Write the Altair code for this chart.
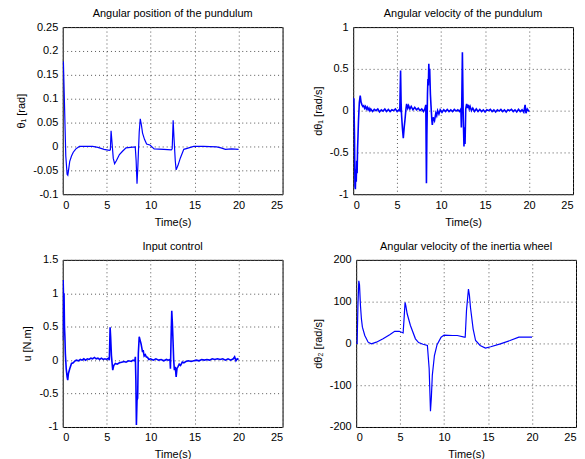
import altair as alt
import pandas as pd

# --- Angular position of the pendulum (theta1) ---
t1 = [0.0, 0.08, 0.2, 0.35, 0.5, 0.58, 0.7, 0.8, 1.0, 1.2, 1.5, 1.9, 2.5, 3.4, 4.0, 4.7, 5.3, 5.42, 5.5, 5.6,
      5.75, 5.9, 6.1, 6.45, 6.8, 7.2, 7.7, 8.25, 8.35, 8.45, 8.55, 8.7, 8.82, 8.95, 9.08, 9.3, 9.54, 9.92, 10.4, 11.5,
      12.35, 12.45, 12.56, 12.65, 12.8, 12.9, 13.1, 13.38, 13.77, 14.15, 14.9, 16.0, 17.5, 18.0, 18.5, 19.2, 20.0]
y1 = [0.178, 0.176, 0.09, -0.02, -0.058, -0.06, -0.045, -0.031, -0.02, -0.012, -0.005, 0.0, 0.0, 0.0, -0.002, -0.006,
      -0.008, -0.007, 0.033, 0.01, -0.025, -0.036, -0.03, -0.017, -0.01, -0.003, -0.002, -0.001, -0.03, -0.078, -0.04,
      0.03, 0.058, 0.045, 0.028, 0.015, 0.005, 0.003, -0.005, -0.006, -0.007, -0.005, 0.055, 0.02, -0.03, -0.049, -0.04,
      -0.024, -0.006, -0.004, 0.0, 0.0, -0.001, -0.003, -0.006, -0.005, -0.006]

# --- Angular velocity of the pendulum (dtheta1) ---
t2 = [0.0, 0.08, 0.15, 0.2, 0.25, 0.3, 0.35, 0.4, 0.45, 0.5, 0.55, 0.6, 0.7, 0.8, 0.9, 1.0, 1.1, 1.2, 1.3, 1.4,
      1.5, 1.6, 1.7, 1.8, 1.9, 2.0, 2.2, 2.4, 2.6, 2.8, 3.0, 3.2, 3.4, 3.6, 3.8, 4.0, 4.2, 4.4, 4.6, 4.8, 5.0, 5.2,
      5.3, 5.39, 5.45, 5.5, 5.6, 5.7, 5.8, 5.9, 6.0, 6.08, 6.2, 6.3, 6.45, 6.6, 6.8, 7.0, 7.2, 7.4, 7.6, 7.8, 8.0,
      8.15, 8.26, 8.33, 8.38, 8.45, 8.5, 8.55, 8.6, 8.65, 8.7, 8.78, 8.85, 8.95, 9.0, 9.1, 9.25, 9.4, 9.5, 9.6, 9.75,
      9.9, 10.1, 10.3, 10.5, 10.7, 10.9, 11.1, 11.3, 11.5, 11.7, 11.9, 12.1, 12.25, 12.3, 12.35, 12.42, 12.47, 12.52,
      12.6, 12.65, 12.72, 12.8, 12.9, 13.0, 13.1, 13.2, 13.3, 13.45, 13.6, 13.8, 14.0, 14.2, 14.4, 14.6, 14.8, 15.0,
      15.2, 15.4, 15.6, 15.8, 16.0, 16.2, 16.4, 16.6, 16.8, 17.0, 17.2, 17.4, 17.6, 17.8, 18.0, 18.2, 18.4, 18.6,
      18.8, 19.0, 19.2, 19.4, 19.55, 19.65, 19.8, 20.0]
y2 = [0.15, 0.14, -0.3, -0.9, -0.94, -0.7, -0.85, -0.6, -0.75, -0.45, -0.3, -0.13, 0.1, 0.18, 0.1, 0.07, 0.05, 0.06,
      0.03, 0.05, 0.02, 0.04, 0.01, 0.03, 0.0, 0.02, -0.01, 0.015, 0.0, 0.02, -0.015, 0.01, -0.005, 0.02, -0.01, 0.015,
      -0.01, 0.01, 0.0, 0.02, -0.01, 0.01,
      0.0, 0.48, 0.1, -0.05, -0.21, -0.33, -0.2, -0.1, 0.02, 0.08, 0.03, 0.06, 0.02, 0.05, 0.01, 0.04, 0.01, 0.03,
      0.0, 0.02, -0.01, 0.02, 0.07, -0.87, -0.3, 0.2, 0.38, 0.3, 0.56, 0.4, 0.5, 0.2, 0.06, -0.12, -0.17, -0.08,
      -0.12, -0.03, -0.06, 0.0, -0.04, 0.01, -0.02, 0.01, -0.01, 0.015, -0.01, 0.01, -0.01, 0.015, -0.005, 0.01,
      -0.01, 0.02, -0.2, 0.1, 0.7, 0.3, -0.1, -0.43, -0.2, -0.4, 0.02, 0.08, 0.03, 0.07, 0.02, 0.05, 0.0, 0.03,
      -0.01, 0.02, -0.01, 0.015, -0.01, 0.01, -0.015, 0.01, 0.0, 0.015, -0.01, 0.01, -0.015, 0.01, -0.005, 0.015,
      -0.01, 0.01, -0.015, 0.01, 0.0, 0.015, -0.01, 0.01, -0.015, 0.015, -0.01, 0.01, -0.02, 0.07, -0.03, 0.02,
      -0.01]

# --- Input control (u) ---
t3 = [0.0, 0.05, 0.1, 0.15, 0.2, 0.25, 0.3, 0.4, 0.5, 0.57, 0.65, 0.8, 1.0, 1.2, 1.4, 1.55, 1.8, 2.0, 2.2, 2.4,
      2.6, 2.8, 3.0, 3.2, 3.4, 3.6, 3.8, 4.0, 4.2, 4.4, 4.6, 4.8, 5.0, 5.2, 5.3, 5.39, 5.45, 5.54, 5.62, 5.69, 5.8,
      5.99, 6.2, 6.45, 6.7, 7.0, 7.2, 7.5, 7.8, 8.0, 8.2, 8.26, 8.32, 8.38, 8.45, 8.52, 8.6, 8.7, 8.8, 8.9, 9.0,
      9.08, 9.15, 9.26, 9.4, 9.5, 9.65, 9.8, 10.0, 10.3, 10.6, 10.9, 11.2, 11.5, 11.8, 12.0, 12.2, 12.25, 12.32,
      12.4, 12.47, 12.55, 12.62, 12.7, 12.8, 12.9, 13.0, 13.1, 13.25, 13.4, 13.6, 13.77, 14.0, 14.3, 14.6, 14.9,
      15.2, 15.5, 15.8, 16.1, 16.4, 16.7, 17.0, 17.3, 17.6, 17.9, 18.2, 18.5, 18.8, 19.1, 19.4, 19.55, 19.7,
      19.85, 20.0]
y3 = [0.3, 1.2, 0.9, 1.0, 0.5, 0.35, 0.1, -0.13, -0.25, -0.3, -0.2, -0.13, -0.05, -0.04, -0.01, 0.0, -0.01, 0.01,
      0.0, 0.02, 0.0, 0.02, 0.01, 0.03, 0.02, 0.04, 0.02, 0.03, 0.01, 0.03, 0.01, 0.02, 0.01, 0.03, 0.0, 0.49, 0.35,
      0.07, -0.05, -0.15, -0.08, -0.05, -0.06, -0.04, -0.03, -0.02, -0.03, -0.01, -0.02, 0.0, -0.01, 0.05, -0.3,
      -0.97, -0.6, -0.57, 0.1, 0.35, 0.3, 0.25, 0.18, 0.12, 0.15, 0.06, 0.08, 0.05, 0.04, 0.01, 0.02, 0.0, 0.02,
      0.0, 0.01, -0.01, 0.01, 0.0, 0.01, -0.13, 0.3, 0.74, 0.55, 0.27, 0.0, -0.15, -0.1, -0.25, -0.12, -0.1, -0.06,
      -0.08, -0.03, -0.04, -0.02, -0.01, -0.02, -0.01, 0.0, -0.01, 0.01, 0.0, 0.01, 0.0, 0.02, 0.01, 0.02, 0.01,
      0.02, 0.0, 0.02, 0.0, 0.02, 0.05, -0.01, 0.02, 0.01]

# --- Angular velocity of the inertia wheel (dtheta2) ---
t4 = [0.0, 0.11, 0.2, 0.3, 0.38, 0.49, 0.6, 0.71, 0.98, 1.36, 1.73, 2.3, 3.06, 3.81, 4.38, 4.9, 5.34, 5.45, 5.56,
      5.65, 5.8, 6.17, 6.74, 7.1, 7.6, 8.1, 8.3, 8.45, 8.55, 8.66, 8.9, 9.2, 9.66, 10.0, 10.97, 11.5, 12.29, 12.4,
      12.55, 12.77, 12.88, 13.0, 13.3, 13.58, 14.1, 14.7, 15.3, 16.4, 17.5, 18.5, 19.2, 20.0]
y4 = [0, 0, 90, 150, 140, 90, 58, 39, 19, 3, -1, 3, 11, 21, 29, 29, 25, 60, 98, 90, 71, 43, 11, 2, -2, -5, -60,
      -162, -130, -76, -29, -3, 15, 20, 19, 19, 15, 15, 80, 130, 115, 86, 35, 7, -5, -11, -8, -1, 7, 15, 15, 15]

x_ticks = [0, 5, 10, 15, 20, 25]

FONT = "Liberation Sans"


def panel(t, y, title, ytitle, ydomain, yticks, sw):
    df = pd.DataFrame({"t": t, "v": y})
    return alt.Chart(df).mark_line(color="#0000ff", strokeWidth=sw, clip=True).encode(
        x=alt.X("t:Q", scale=alt.Scale(domain=[0, 25], nice=False, zero=False),
                axis=alt.Axis(values=x_ticks, title="Time(s)", labelExpr="'' + datum.value")),
        y=alt.Y("v:Q", scale=alt.Scale(domain=ydomain, nice=False, zero=False),
                axis=alt.Axis(values=yticks, title=ytitle, labelExpr="'' + datum.value")),
        order="t:Q",
    ).properties(width=221, height=168, title=title)


p1 = panel(t1, y1, "Angular position of the pundulum", "θ₁ [rad]", [-0.1, 0.25],
           [-0.1, -0.05, 0, 0.05, 0.1, 0.15, 0.2, 0.25], 1.2)
p2 = panel(t2, y2, "Angular velocity of the pundulum", "dθ₁ [rad/s]", [-1, 1],
           [-1, -0.5, 0, 0.5, 1], 1.6)
p3 = panel(t3, y3, "Input control", "u [N.m]", [-1, 1.5],
           [-1, -0.5, 0, 0.5, 1, 1.5], 1.6)
p4 = panel(t4, y4, "Angular velocity of the inertia wheel", "dθ₂ [rad/s]", [-200, 200],
           [-200, -100, 0, 100, 200], 1.2)

chart = alt.vconcat(
    alt.hconcat(p1, p2, spacing=28),
    alt.hconcat(p3, p4, spacing=28),
    spacing=12,
).properties(
    padding={"left": 7, "top": -2, "right": 0, "bottom": 0}
).configure_view(
    stroke="black", strokeWidth=1
).configure_axis(
    domain=False, ticks=False, grid=True, gridColor="#555", gridDash=[1, 3], gridWidth=1,
    labelFont=FONT, labelFontSize=11, labelColor="black", labelPadding=5,
    titleFont=FONT, titleFontSize=11, titleFontWeight="normal", titleColor="black", titlePadding=6,
).configure_title(
    font=FONT, fontSize=11, fontWeight="normal", color="black", offset=2
)

chart.save("out.html", embed_options={"renderer": "svg", "actions": False})
